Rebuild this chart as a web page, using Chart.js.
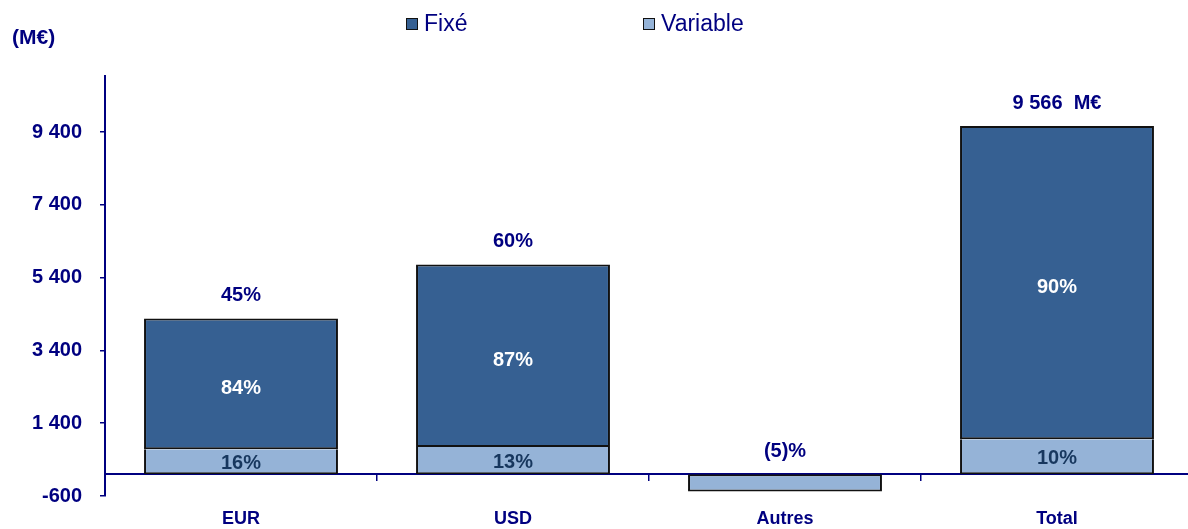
<!DOCTYPE html>
<html><head><meta charset="utf-8">
<script src="https://cdn.jsdelivr.net/npm/chart.js@4/dist/chart.umd.min.js"></script>
<style>
html,body{margin:0;padding:0;width:1188px;height:529px;overflow:hidden;background:#fff;font-family:"Liberation Sans",Arial,sans-serif;}
#wrap{position:absolute;left:0;top:0;width:1196px;height:529px;}
#c{position:absolute;left:0;top:0;}
#unit{position:absolute;left:12px;top:25px;font-weight:bold;font-size:21px;color:#000080;line-height:24px;}
.lg{position:absolute;top:10px;font-size:23px;line-height:26px;color:#000080;white-space:nowrap;}
.lg i{display:inline-block;width:10px;height:10px;border:1.5px solid #111;margin-right:6px;vertical-align:1px;}
</style></head><body>
<div id="wrap">
<canvas id="c" width="1196" height="529"></canvas>
<div id="unit">(M€)</div>
<div class="lg" style="left:406px"><i style="background:#366092"></i>Fixé</div>
<div class="lg" style="left:643px"><i style="background:#95B3D7"></i>Variable</div>
</div>
<script>
const categories = ['EUR', 'USD', 'Autres', 'Total'];
const fixedValues = [3595, 5015, null, 8610];
const variableValues = [685, 749, -478, 956];
const fixedPctLabels = ['84%', '87%', '', '90%'];
const variablePctLabels = ['16%', '13%', '', '10%'];
const totalLabels = ['45%', '60%', '(5)%', '9 566  M€'];
const yTickValues = [-600, 1400, 3400, 5400, 7400, 9400];
const yMin = -600, yMax = 10940;

const NAVY = '#000080';
const FONT = '"Liberation Sans", Arial, sans-serif';

const labelPlugin = {
  id: 'barLabels',
  afterDatasetsDraw(chart) {
    const ctx = chart.ctx, ys = chart.scales.y;
    const metaV = chart.getDatasetMeta(0), metaF = chart.getDatasetMeta(1);
    ctx.save();
    ctx.textAlign = 'center';
    ctx.textBaseline = 'middle';
    ctx.font = 'bold 20px ' + FONT;
    categories.forEach((c, i) => {
      const bv = metaV.data[i], bf = metaF.data[i];
      if (fixedPctLabels[i] && bf) {
        ctx.fillStyle = '#ffffff';
        ctx.fillText(fixedPctLabels[i], bf.x, (bf.y + bf.base) / 2 + 5);
      }
      if (variablePctLabels[i] && bv) {
        ctx.fillStyle = '#17375E';
        ctx.fillText(variablePctLabels[i], bv.x, (bv.y + bv.base) / 2 + 2);
      }
      const total = (fixedValues[i] || 0) + (variableValues[i] || 0);
      const top = ys.getPixelForValue(Math.max(total, 0));
      ctx.fillStyle = NAVY;
      ctx.fillText(totalLabels[i], bv.x, top - 23);
    });
    ctx.restore();
  }
};

new Chart(document.getElementById('c'), {
  type: 'bar',
  data: {
    labels: categories,
    datasets: [
      { label: 'Variable', data: variableValues, backgroundColor: '#95B3D7', borderColor: '#111111', borderWidth: 2,
        borderSkipped: (ctx) => (ctx.raw < 0 ? false : 'top'), barPercentage: 0.713, categoryPercentage: 1 },
      { label: 'Fixé', data: fixedValues, backgroundColor: '#366092', borderColor: '#111111', borderWidth: 2, borderSkipped: false, barPercentage: 0.713, categoryPercentage: 1 }
    ]
  },
  options: {
    responsive: false,
    animation: false,
    devicePixelRatio: 1,
    layout: { padding: { top: 76, right: 3, left: 0, bottom: 0 } },
    plugins: { legend: { display: false }, tooltip: { enabled: false } },
    scales: {
      x: {
        type: 'category',
        stacked: true,
        position: { y: 0 },
        offset: true,
        border: { display: true, color: NAVY, width: 2 },
        grid: { display: true, drawOnChartArea: false, drawTicks: true, tickLength: 6, color: NAVY, lineWidth: 1.5, offset: true },
        ticks: { display: false }
      },
      x2: {
        type: 'category',
        position: 'bottom',
        offset: true,
        border: { display: false },
        grid: { display: false, drawTicks: false },
        ticks: { color: NAVY, font: { family: FONT, size: 18, weight: 'bold' }, padding: 12, maxRotation: 0 },
        afterFit(s) { s.height = 33; }
      },
      y: {
        stacked: true,
        min: yMin,
        max: yMax,
        border: { display: true, color: NAVY, width: 2 },
        grid: { display: true, drawOnChartArea: false, drawTicks: true, tickLength: 5, color: NAVY, lineWidth: 1.5 },
        ticks: {
          color: NAVY,
          padding: 18,
          font: { family: FONT, size: 20, weight: 'bold' },
          callback: (v) => (v < 0 ? '-' : '') + Math.abs(v).toString().replace(/\B(?=(\d{3})+(?!\d))/g, ' ')
        },
        afterBuildTicks(s) { s.ticks = yTickValues.map(v => ({ value: v })); },
        afterFit(s) { s.width = 105; }
      }
    }
  },
  plugins: [labelPlugin]
});
</script>
</body></html>
